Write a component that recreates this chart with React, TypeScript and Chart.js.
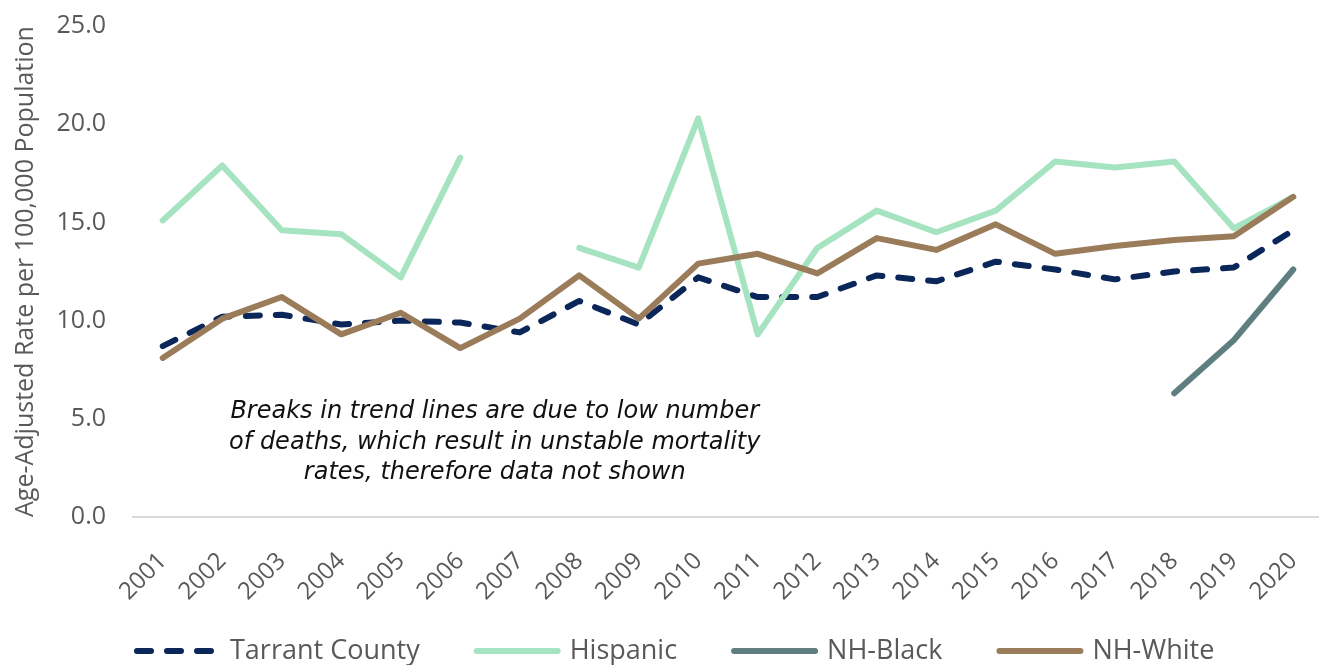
import { useEffect, useRef } from "react";
import { Chart, registerables } from "chart.js";

Chart.register(...registerables);

// Age-adjusted mortality rate per 100,000, by year and group
const years = [
  "2001", "2002", "2003", "2004", "2005", "2006", "2007", "2008", "2009", "2010",
  "2011", "2012", "2013", "2014", "2015", "2016", "2017", "2018", "2019", "2020",
];
const tarrantCounty = [8.7, 10.2, 10.3, 9.8, 10.0, 9.9, 9.4, 11.0, 9.8, 12.2, 11.2, 11.2, 12.3, 12.0, 13.0, 12.6, 12.1, 12.5, 12.7, 14.6];
const hispanic = [15.1, 17.9, 14.6, 14.4, 12.2, 18.3, null, 13.7, 12.7, 20.3, 9.3, 13.7, 15.6, 14.5, 15.6, 18.1, 17.8, 18.1, 14.7, 16.3];
const nhBlack = [null, null, null, null, null, null, null, null, null, null, null, null, null, null, null, null, null, 6.3, 9.0, 12.6];
const nhWhite = [8.1, 10.1, 11.2, 9.3, 10.4, 8.6, 10.1, 12.3, 10.1, 12.9, 13.4, 12.4, 14.2, 13.6, 14.9, 13.4, 13.8, 14.1, 14.3, 16.3];

const seriesNames = ["Tarrant County", "Hispanic", "NH-Black", "NH-White"];
const seriesColors = ["#0B2759", "#A6E3C0", "#5E7E80", "#9A7B5A"];

const yMin = 0;
const yMax = 25;
const yStep = 5;
const yTitle = "Age-Adjusted Rate per 100,000 Population";

const noteLines = [
  "Breaks in trend lines are due to low number",
  "of deaths, which result in unstable mortality",
  "rates, therefore data not shown",
];

const FONT = '"Open Sans", "Noto Sans", sans-serif';
const NOTE_FONT = '"DejaVu Sans", Verdana, sans-serif';
const GREY_TEXT = "#595959";

// Italic note placed in data space, between 2006 and 2007 just above 5.0
const notePlugin = {
  id: "trendNote",
  afterDatasetsDraw(chart: any) {
    const { ctx, scales } = chart;
    const cx = scales.x.getPixelForValue(5.58);
    const cy = scales.y.getPixelForValue(5.35);
    ctx.save();
    ctx.font = `oblique 24px ${NOTE_FONT}`;
    ctx.fillStyle = "#111111";
    ctx.textAlign = "center";
    ctx.textBaseline = "middle";
    noteLines.forEach((line, i) => ctx.fillText(line, cx, cy + i * 30.5));
    ctx.restore();
  },
};

// Single-row legend under the axis labels with long line samples
const legendPlugin = {
  id: "lineLegend",
  afterDraw(chart: any) {
    const { ctx } = chart;
    const y = 651;
    let x = chart.chartArea.left + 1;
    ctx.save();
    ctx.font = `27px ${FONT}`;
    ctx.textBaseline = "middle";
    ctx.textAlign = "left";
    chart.data.datasets.forEach((ds: any) => {
      ctx.save();
      ctx.strokeStyle = ds.borderColor;
      ctx.lineWidth = 6;
      ctx.lineCap = "round";
      ctx.setLineDash(ds.borderDash || []);
      ctx.beginPath();
      ctx.moveTo(x + 3, y);
      ctx.lineTo(x + 84, y);
      ctx.stroke();
      ctx.restore();
      x += 87 + 9;
      ctx.fillStyle = GREY_TEXT;
      ctx.fillText(ds.label, x, y);
      x += ctx.measureText(ds.label).width + 54;
    });
    ctx.restore();
  },
};

export default function App() {
  const canvasRef = useRef<HTMLCanvasElement | null>(null);

  useEffect(() => {
    if (!canvasRef.current) return;
    Chart.defaults.font.family = FONT;
    const values = [tarrantCounty, hispanic, nhBlack, nhWhite];
    const chart = new Chart(canvasRef.current, {
      type: "line",
      data: {
        labels: years,
        datasets: values.map((data, i) => ({
          label: seriesNames[i],
          data,
          borderColor: seriesColors[i],
          backgroundColor: seriesColors[i],
          borderWidth: 6,
          borderCapStyle: "round",
          borderJoinStyle: "round",
          borderDash: i === 0 ? [14, 16] : [],
          pointRadius: 0,
          pointHoverRadius: 0,
          tension: 0,
          spanGaps: false,
          fill: false,
          order: values.length - 1 - i,
        })),
      },
      options: {
        responsive: false,
        animation: false,
        devicePixelRatio: 1,
        layout: { padding: { top: 26, right: 2, bottom: 0, left: 0 } },
        plugins: {
          legend: { display: false },
          tooltip: { enabled: false },
        },
        scales: {
          x: {
            type: "category",
            offset: true,
            grid: { display: false, drawTicks: false },
            border: { display: true, color: "#D9D9D9", width: 2 },
            ticks: {
              autoSkip: false,
              minRotation: 45,
              maxRotation: 45,
              padding: 30,
              color: GREY_TEXT,
              font: { size: 24, family: FONT },
            },
            afterFit(scale: any) {
              scale.height = 148;
              scale.paddingLeft = 0;
              scale.paddingRight = 0;
            },
          },
          y: {
            min: yMin,
            max: yMax,
            grid: { display: false, drawTicks: false },
            border: { display: false },
            ticks: {
              stepSize: yStep,
              padding: 27,
              color: GREY_TEXT,
              font: { size: 25, family: FONT },
              callback: (v: any) => Number(v).toFixed(1),
            },
            title: {
              display: true,
              text: yTitle,
              color: GREY_TEXT,
              font: { size: 25, family: FONT },
              padding: { top: 11, bottom: 0 },
            },
            afterFit(scale: any) {
              scale.width = 133;
              scale.paddingTop = 0;
              scale.paddingBottom = 0;
            },
          },
        },
      },
      plugins: [notePlugin, legendPlugin],
    } as any);
    return () => chart.destroy();
  }, []);

  return (
    <div
      style={{
        position: "fixed",
        left: 0,
        top: 0,
        width: 1319,
        height: 665,
        overflow: "hidden",
        background: "#ffffff",
      }}
    >
      <canvas ref={canvasRef} width={1325} height={665} style={{ display: "block" }} />
    </div>
  );
}
